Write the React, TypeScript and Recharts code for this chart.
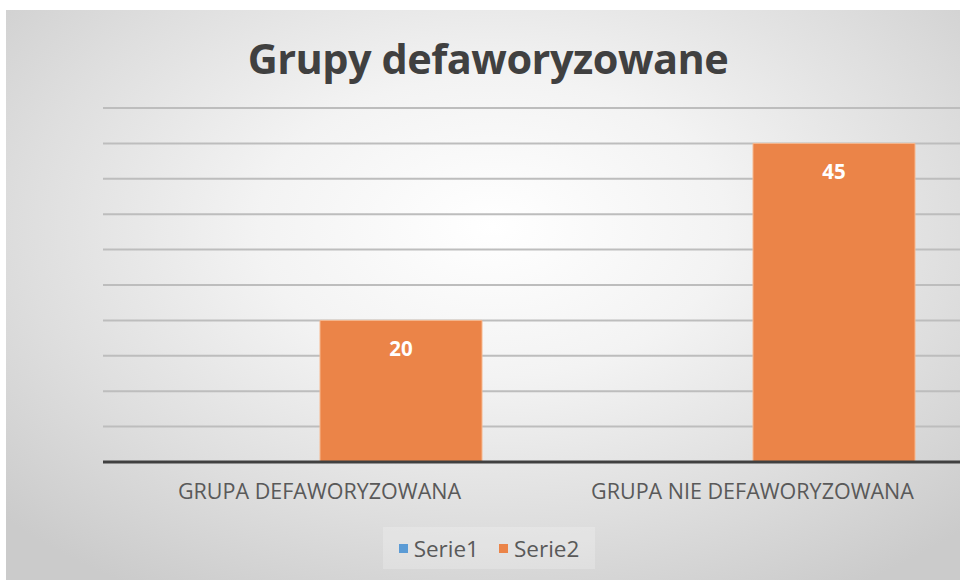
import { Bar, BarChart, CartesianGrid, LabelList, XAxis, YAxis } from "recharts";

const categories = ["GRUPA DEFAWORYZOWANA", "GRUPA NIE DEFAWORYZOWANA"];
const serie1: (number | null)[] = [0, 0];
const serie2 = [20, 45];
const seriesNames = ["Serie1", "Serie2"];
const seriesColors = ["#5B9BD5", "#EB8448"];
const yTicks = [0, 5, 10, 15, 20, 25, 30, 35, 40, 45, 50];

const data = categories.map((name, i) => ({
  name,
  serie1: serie1[i],
  serie2: serie2[i],
}));

const font = "'Open Sans', 'Noto Sans', sans-serif";

export default function App() {
  return (
    <div
      style={{
        position: "fixed",
        left: 0,
        top: 0,
        width: 960,
        height: 580,
        background: "#fff",
        fontFamily: font,
      }}
    >
      <div
        style={{
          position: "absolute",
          left: 6,
          top: 10,
          width: 954,
          height: 570,
          overflow: "hidden",
          background:
            "radial-gradient(ellipse 70% 75% at 51% 38%, #ffffff 0%, #f3f3f3 35%, #dedede 70%, #cbcbcb 100%)",
        }}
      >
        <div
          style={{
            position: "absolute",
            left: 0,
            width: 964,
            top: 20,
            textAlign: "center",
            fontSize: 41.5,
            fontWeight: 700,
            color: "#404040",
            letterSpacing: -0.5,
          }}
        >
          Grupy defaworyzowane
        </div>
        <BarChart
          width={970}
          height={570}
          data={data}
          margin={{ top: 98, right: 7, left: 97, bottom: 88 }}
          barGap={0}
          barSize={162}
        >
          <CartesianGrid vertical={false} stroke="#bdbdbd" strokeWidth={2} />
          <YAxis hide domain={[0, 50]} ticks={yTicks} />
          <XAxis
            dataKey="name"
            axisLine={{ stroke: "#404040", strokeWidth: 3 }}
            tickLine={false}
            tickMargin={16}
            height={30}
            tick={{ fontSize: 21.5, fill: "#595959", fontFamily: font }}
          />
          <Bar dataKey="serie1" fill={seriesColors[0]} isAnimationActive={false} />
          <Bar
            dataKey="serie2"
            fill={seriesColors[1]}
            stroke="#f6b88f"
            strokeWidth={1}
            isAnimationActive={false}
          >
            <LabelList
              dataKey="serie2"
              position="insideTop"
              offset={21}
              fill="#ffffff"
              fontSize={20.5}
              fontWeight={700}
              fontFamily={font}
            />
          </Bar>
        </BarChart>
        <div
          style={{
            position: "absolute",
            left: 377,
            top: 517,
            width: 212,
            height: 42,
            background: "rgba(255,255,255,0.22)",
            display: "flex",
            alignItems: "center",
            justifyContent: "center",
            gap: 20,
            fontSize: 22.5,
            color: "#595959",
          }}
        >
          {seriesNames.map((s, i) => (
            <div key={s} style={{ display: "flex", alignItems: "center", gap: 6 }}>
              <span
                style={{
                  display: "inline-block",
                  width: 9,
                  height: 9,
                  background: seriesColors[i],
                }}
              />
              {s}
            </div>
          ))}
        </div>
      </div>
    </div>
  );
}
